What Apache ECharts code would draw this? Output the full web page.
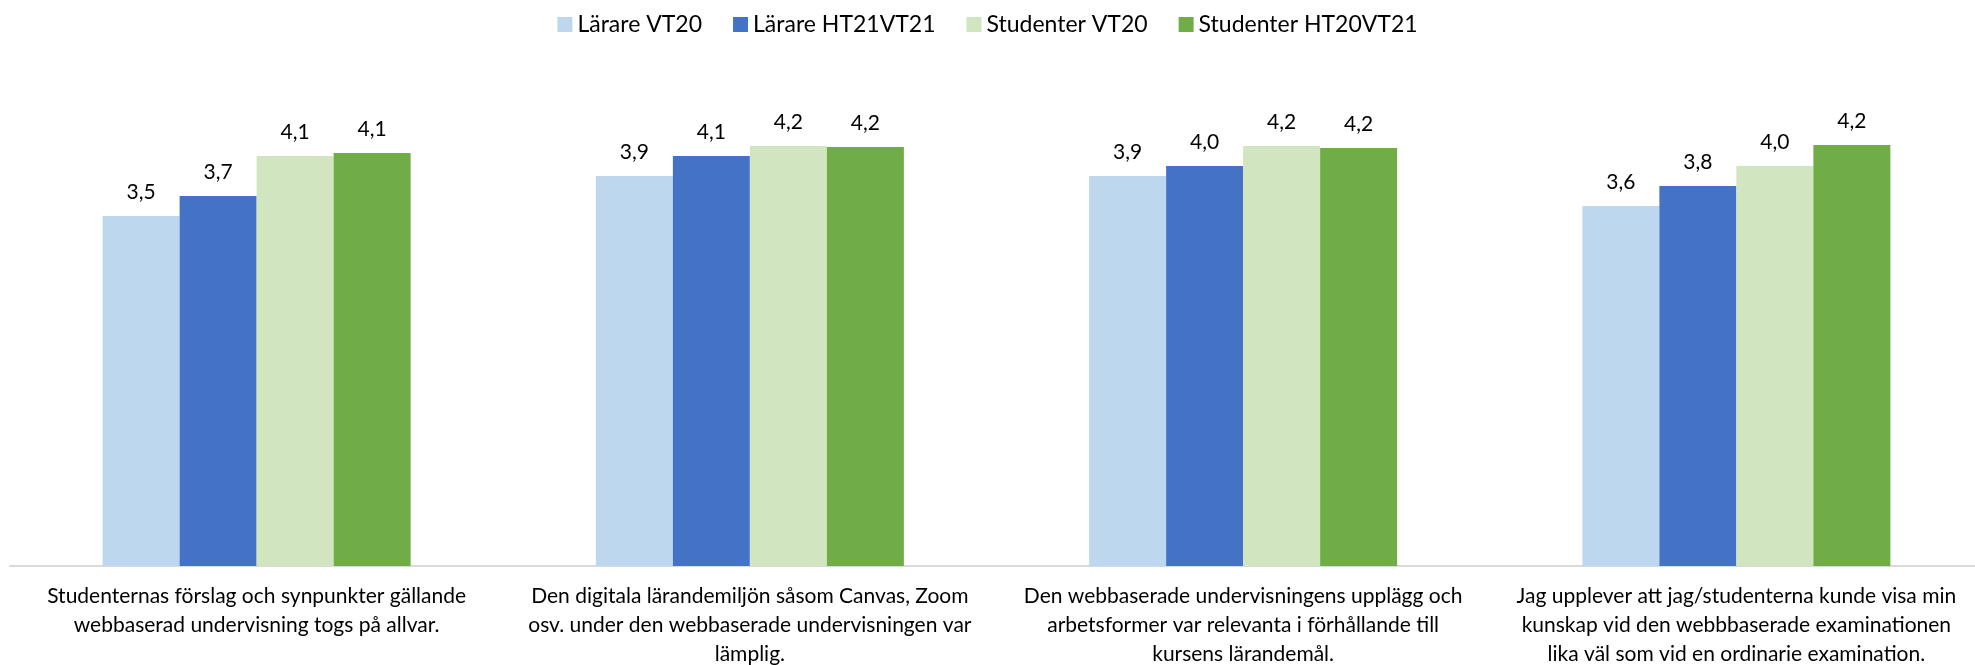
<!DOCTYPE html>
<html>
<head>
<meta charset="utf-8">
<script src="https://cdn.jsdelivr.net/npm/echarts@6/dist/echarts.min.js"></script>
<style>
html,body{margin:0;padding:0;background:#fff;}
#chart{width:1975px;height:665px;}
</style>
</head>
<body>
<div id="chart"></div>
<script>
const categories = [
  "Studenternas förslag och synpunkter gällande\nwebbaserad undervisning togs på allvar.",
  "Den digitala lärandemiljön såsom Canvas, Zoom\nosv. under den webbaserade undervisningen var\nlämplig.",
  "Den webbaserade undervisningens upplägg och\narbetsformer var relevanta i förhållande till\nkursens lärandemål.",
  "Jag upplever att jag/studenterna kunde visa min\nkunskap vid den webbbaserade examinationen\nlika väl som vid en ordinarie examination."
];
const seriesNames = ["Lärare VT20", "Lärare HT21VT21", "Studenter VT20", "Studenter HT20VT21"];
const lararVT20 = [3.50, 3.90, 3.90, 3.60];
const lararHT21VT21 = [3.70, 4.10, 4.00, 3.80];
const studVT20 = [4.10, 4.20, 4.20, 4.00];
const studHT20VT21 = [4.13, 4.19, 4.18, 4.21];
const colors = ["#BDD7EE", "#4472C4", "#D0E5C0", "#70AD47"];

const font = "Lato, 'Open Sans', sans-serif";
const values = [lararVT20, lararHT21VT21, studVT20, studHT20VT21];

const chart = echarts.init(document.getElementById('chart'), null, {renderer: 'canvas'});
chart.setOption({
  animation: false,
  backgroundColor: '#fff',
  color: colors,
  legend: {
    top: 8,
    left: 'center',
    itemWidth: 15,
    itemHeight: 15,
    itemGap: 31,
    icon: 'rect',
    textStyle: {fontFamily: font, fontSize: 23, color: '#000'},
    data: seriesNames
  },
  grid: {left: 10, width: 1973, top: 66, bottom: 99, containLabel: false, outerBoundsMode: 'none'},
  xAxis: {
    type: 'category',
    data: categories,
    axisTick: {show: false},
    axisLine: {lineStyle: {color: '#d9d9d9', width: 2}},
    axisLabel: {
      interval: 0,
      margin: 16,
      fontFamily: font,
      fontSize: 21,
      lineHeight: 29,
      color: '#000',
      align: 'center'
    }
  },
  yAxis: {
    type: 'value',
    min: 0,
    max: 5,
    interval: 1,
    show: false,
    splitLine: {show: false}
  },
  series: values.map((v, i) => ({
    name: seriesNames[i],
    type: 'bar',
    data: v,
    barWidth: 77,
    barGap: '0%',
    itemStyle: {color: colors[i]},
    label: {
      show: true,
      position: 'top',
      distance: 13,
      fontFamily: font,
      fontSize: 21,
      color: '#000',
      formatter: p => p.value.toFixed(1).replace('.', ',')
    }
  }))
});
</script>
</body>
</html>
